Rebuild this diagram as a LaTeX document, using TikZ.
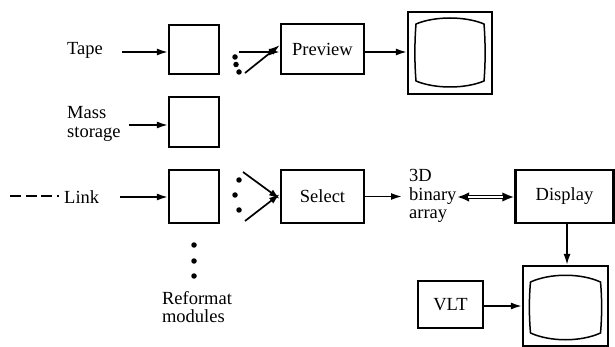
\documentclass[tikz,border=0pt]{standalone}
\usepackage{fontspec}
\setmainfont{Liberation Serif}
\usetikzlibrary{arrows.meta}
\begin{document}
\begin{tikzpicture}[x=1pt,y=-1pt,
 box/.style={draw, line width=2.2pt, inner sep=0pt, font=\fontsize{18.5}{18.5}\selectfont},
 arr/.style={line width=1.7pt, -{Latex[length=11pt,width=7pt]}},
 lbl/.style={font=\fontsize{18.5}{18.5}\selectfont, inner sep=0pt, align=left},
 dotn/.style={circle, fill, inner sep=0pt, minimum size=5.5pt},
 scr/.style={line width=1.5pt}]
\useasboundingbox (0,0) rectangle (615,347);
% reformat module boxes
\node[box, minimum width=50pt, minimum height=49pt] (tapebox) at (194,49.5) {};
\node[box, minimum width=50pt, minimum height=50pt] (massbox) at (194,122) {};
\node[box, minimum width=50pt, minimum height=53pt] (linkbox) at (194,196.5) {};
% other boxes
\node[box, minimum width=83pt, minimum height=50pt] (preview) at (322.5,49) {Preview};
\node[box, minimum width=83pt, minimum height=53pt] (select) at (322.5,196.5) {Select};
\node[box, minimum width=98pt, minimum height=53pt] (display) at (564.5,196.5) {Display};
\node[box, minimum width=65pt, minimum height=47pt] (vlt) at (450.5,304.5) {VLT};
% monitors
\node[box, minimum width=84pt, minimum height=82pt] (mon1) at (450,53) {};
\node[box, minimum width=85pt, minimum height=80pt] (mon2) at (565.5,306) {};
\begin{scope}[shift={(mon1.center)}]
\draw[scr] (-34,-29) .. controls (-15,-37) and (15,-37) .. (34,-29)
  .. controls (35.5,-10) and (35.5,10) .. (34,28)
  .. controls (15,36) and (-15,36) .. (-34,28)
  .. controls (-35.5,10) and (-35.5,-10) .. cycle;
\end{scope}
\begin{scope}[shift={(mon2.center)}]
\draw[scr] (-35,-24) .. controls (-15,-33) and (15,-33) .. (35,-24)
  .. controls (36.5,-8) and (36.5,10) .. (35,27)
  .. controls (15,36) and (-15,36) .. (-35,27)
  .. controls (-36.5,10) and (-36.5,-8) .. cycle;
\end{scope}
% labels
\node[lbl, anchor=west] (tape) at (67,50) {Tape};
\node[lbl, anchor=west] (mass) at (67,124) {Mass\\storage};
\node[lbl, anchor=west] (link) at (64,197) {Link};
\node[lbl, anchor=west] (bin) at (409,196) {3D\\binary\\array};
\node[lbl] (reformat) at (197,307) {Reformat\\modules};
% input arrows
\coordinate (tapein) at (122,52);
\coordinate (massin) at (129,125);
\coordinate (linkin) at (120,197);
\coordinate (dashin) at (10,196);
\draw[arr] (tapein) -- (tapein -| tapebox.west);
\draw[arr] (massin) -- (massin -| massbox.west);
\draw[arr] (linkin) -- (linkin -| linkbox.west);
\draw[line width=1.4pt, dash pattern=on 11pt off 4.5pt] (dashin) -- ([xshift=-5pt]link.west |- dashin);
% dots and fan-in to preview
\node[dotn] (d1) at (235,57) {};
\node[dotn] (d2) at (236,64.5) {};
\node[dotn] (d3) at (239,72) {};
\coordinate (p1) at (239,52);
\coordinate (p2) at (245,73);
\draw[arr] (p1) -- (p1 -| preview.west);
\draw[arr] (p2) -- ([yshift=4pt]preview.west);
% dots and fan-in to select
\node[dotn] (e1) at (239,180) {};
\node[dotn] (e2) at (235,195) {};
\node[dotn] (e3) at (239,210) {};
\coordinate (s1) at (243,172);
\coordinate (s2) at (245,221);
\draw[arr] (s1) -- ([yshift=-2.5pt]select.west);
\draw[arr] (s2) -- ([yshift=2.5pt]select.west);
% dots below modules
\node[dotn] (f1) at (194,245) {};
\node[dotn] (f2) at (194,261) {};
\node[dotn] (f3) at (194,276) {};
% other arrows
\draw[arr] (preview.east |- 0,52) -- (mon1.west |- 0,52);
\draw[arr] (select.east) -- ([xshift=-7pt]bin.west |- select.east);
\coordinate (dbl) at (457,197);
\draw[line width=4pt, {Latex[length=12pt,width=9.5pt]}-{Latex[length=12pt,width=9.5pt]}] (dbl) -- (dbl -| display.west);
\draw[white, line width=1.2pt, shorten <=11pt, shorten >=11pt] (dbl) -- (dbl -| display.west);
\draw[arr] (display.south) ++(2.5,0) coordinate (dsb) (dsb) -- (dsb |- mon2.north);
\draw[arr] (vlt.east |- 0,306) -- (mon2.west |- 0,306);
\end{tikzpicture}
\end{document}
